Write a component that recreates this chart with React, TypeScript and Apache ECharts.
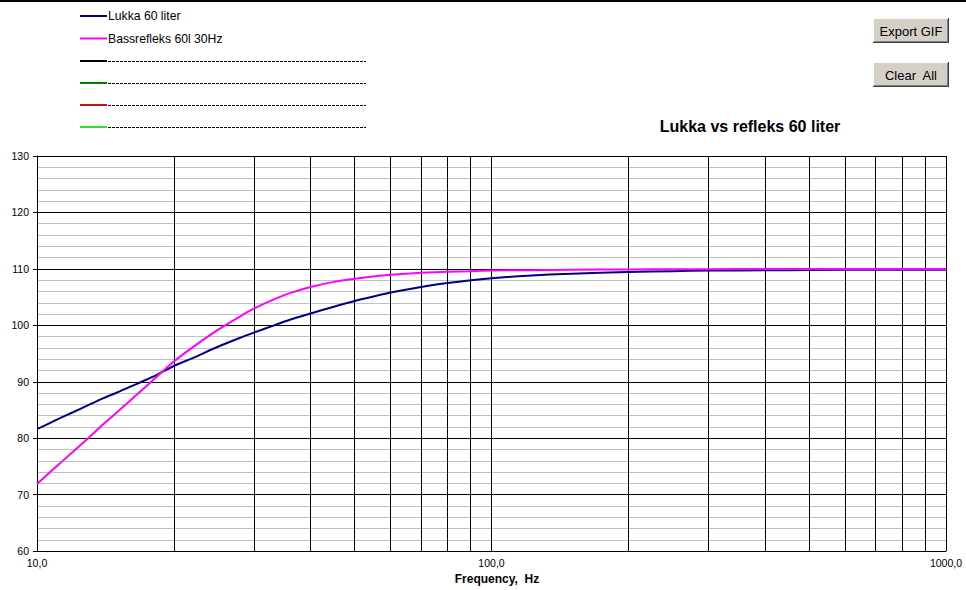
import React, { useEffect, useRef } from "react";
import * as echarts from "echarts";

const freqs = [10, 11, 12, 13, 14, 15, 16, 17, 18, 19, 20, 22, 25, 28, 30, 33, 36, 40, 45, 50, 55, 60, 70, 80, 90, 100, 120, 150, 200, 250, 300, 400, 500, 700, 1000];
const lukka = [81.6, 83.2, 84.6, 85.9, 87.1, 88.1, 89.1, 90.0, 90.9, 91.9, 92.8, 94.2, 96.2, 97.8, 98.7, 99.9, 101.0, 102.1, 103.3, 104.3, 105.1, 105.8, 106.8, 107.5, 108.0, 108.35, 108.8, 109.15, 109.45, 109.6, 109.7, 109.75, 109.8, 109.85, 109.85];
const refleks = [71.9, 74.9, 77.6, 80.1, 82.5, 84.6, 86.6, 88.5, 90.3, 92.0, 93.6, 96.1, 99.2, 101.6, 102.95, 104.5, 105.7, 106.8, 107.7, 108.25, 108.65, 108.95, 109.3, 109.5, 109.6, 109.7, 109.78, 109.85, 109.9, 109.93, 109.95, 109.97, 110.0, 110.0, 110.0];
const legendNames = ["Lukka 60 liter", "Bassrefleks 60l 30Hz", "", "", "", ""];
const legendColors = ["#000080", "#ff00ff", "#000000", "#008000", "#cc1010", "#33dd33"];
const gridFreqs = [20, 30, 40, 50, 60, 70, 80, 90, 200, 300, 400, 500, 600, 700, 800, 900];
const titleText = "Lukka vs refleks 60 liter";
const xName = "Frequency,  Hz";
const buttons = ["Export GIF", "Clear  All"];

const FONT = "'Liberation Sans', Arial, sans-serif";

export default function App() {
  const ref = useRef<HTMLDivElement>(null);
  useEffect(() => {
    if (!ref.current) return;
    const chart = echarts.init(ref.current, null, { renderer: "svg" });
    const legendY = [16, 38.5, 61, 83, 105, 127];
    const graphics: any[] = [
      { type: "rect", shape: { x: 0, y: 0, width: 966, height: 2 }, style: { fill: "#000" } },
    ];
    legendNames.forEach((n, i) => {
      const y = legendY[i];
      graphics.push({ type: "line", shape: { x1: 80, y1: y, x2: 107, y2: y }, style: { stroke: legendColors[i], lineWidth: 2 } });
      if (n) {
        graphics.push({ type: "text", x: 108, y, style: { text: n, font: `12.2px ${FONT}`, fill: "#000", verticalAlign: "middle", align: "left" } });
      } else {
        graphics.push({ type: "line", shape: { x1: 108, y1: y + 0.5, x2: 366, y2: y + 0.5 }, style: { stroke: "#000", lineWidth: 1, lineDash: [3, 1] } });
      }
    });
    const btnY = [18, 62];
    buttons.forEach((b, i) => {
      const x = 873, y = btnY[i], w = 76, h = 25;
      graphics.push({
        type: "group",
        children: [
          { type: "rect", shape: { x, y, width: w, height: h }, style: { fill: "#d4d0c8" } },
          { type: "line", shape: { x1: x, y1: y + 0.5, x2: x + w, y2: y + 0.5 }, style: { stroke: "#ffffff", lineWidth: 1 } },
          { type: "line", shape: { x1: x + 0.5, y1: y, x2: x + 0.5, y2: y + h }, style: { stroke: "#ffffff", lineWidth: 1 } },
          { type: "line", shape: { x1: x, y1: y + h - 0.5, x2: x + w, y2: y + h - 0.5 }, style: { stroke: "#404040", lineWidth: 1 } },
          { type: "line", shape: { x1: x + w - 0.5, y1: y, x2: x + w - 0.5, y2: y + h }, style: { stroke: "#404040", lineWidth: 1 } },
          { type: "line", shape: { x1: x + 1, y1: y + h - 1.5, x2: x + w - 1, y2: y + h - 1.5 }, style: { stroke: "#808080", lineWidth: 1 } },
          { type: "line", shape: { x1: x + w - 1.5, y1: y + 1, x2: x + w - 1.5, y2: y + h - 1 }, style: { stroke: "#808080", lineWidth: 1 } },
          { type: "text", x: x + w / 2, y: y + h / 2 + 0.5, style: { text: b, font: `13px ${FONT}`, fill: "#000", align: "center", verticalAlign: "middle" } },
        ],
      });
    });
    graphics.push({ type: "text", x: 750, y: 126.5, style: { text: titleText, font: `bold 16px ${FONT}`, fill: "#000", align: "center", verticalAlign: "middle" } });

    chart.setOption({
      animation: false,
      backgroundColor: "#ffffff",
      textStyle: { fontFamily: FONT },
      grid: { left: 37, top: 156, right: 20, bottom: 38, containLabel: false },
      xAxis: {
        type: "log",
        logBase: 10,
        min: 10,
        max: 1000,
        name: xName,
        nameLocation: "middle",
        nameGap: 20,
        nameTextStyle: { fontFamily: FONT, fontWeight: "bold", fontSize: 12, color: "#000", padding: [0, 0, 0, 11] },
        axisLine: { show: true, lineStyle: { color: "#000", width: 1 } },
        axisTick: { show: false },
        axisLabel: {
          color: "#000",
          fontSize: 10.5,
          fontFamily: FONT,
          margin: 6,
          showMinLabel: true,
          showMaxLabel: true,
          formatter: (v: number) => v.toFixed(1).replace(".", ","),
        },
        splitLine: { show: true, lineStyle: { color: "#000", width: 1 } },
      },
      yAxis: {
        type: "value",
        min: 60,
        max: 130,
        interval: 10,
        axisLine: { show: true, lineStyle: { color: "#000", width: 1 } },
        axisTick: { show: true, length: 4, lineStyle: { color: "#000" } },
        axisLabel: { color: "#000", fontSize: 10.5, fontFamily: FONT, margin: 8 },
        splitLine: { show: true, lineStyle: { color: "#000", width: 1 } },
        minorTick: { show: false, splitNumber: 5 },
        minorSplitLine: { show: true, lineStyle: { color: "#c0c0c0", width: 1 } },
      },
      series: [
        {
          type: "line",
          name: "grid",
          data: [],
          silent: true,
          z: 1,
          markLine: {
            silent: true,
            symbol: ["none", "none"],
            label: { show: false },
            lineStyle: { color: "#000", width: 1, type: "solid" },
            data: gridFreqs.map((f) => ({ xAxis: f })),
          },
        },
        {
          type: "line",
          name: legendNames[0],
          data: freqs.map((f, i) => [f, lukka[i]]),
          showSymbol: false,
          smooth: 0.25,
          z: 5,
          lineStyle: { color: legendColors[0], width: 2 },
          itemStyle: { color: legendColors[0] },
        },
        {
          type: "line",
          name: legendNames[1],
          data: freqs.map((f, i) => [f, refleks[i]]),
          showSymbol: false,
          smooth: 0.25,
          z: 5,
          lineStyle: { color: legendColors[1], width: 2 },
          itemStyle: { color: legendColors[1] },
        },
      ],
      graphic: graphics,
    });
    return () => chart.dispose();
  }, []);
  return <div ref={ref} style={{ position: "fixed", left: 0, top: 0, width: 966, height: 590, background: "#fff" }} />;
}
